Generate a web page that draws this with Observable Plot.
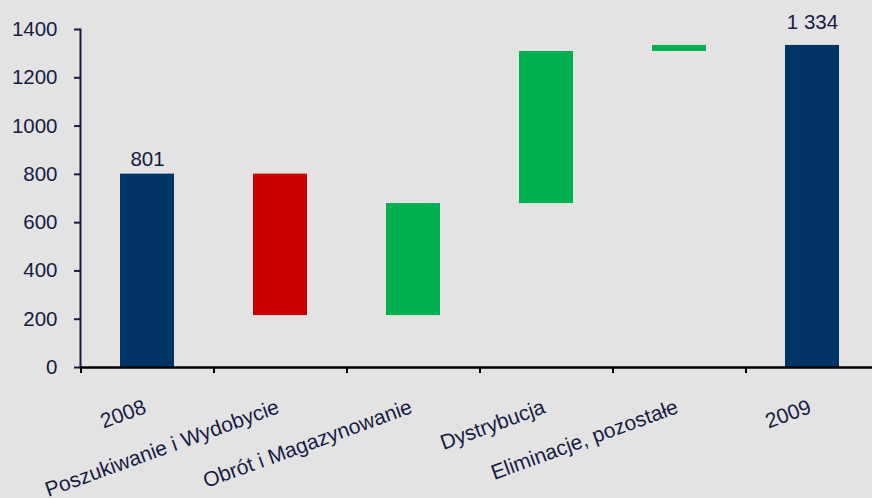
<!DOCTYPE html>
<html lang="pl">
<head>
<meta charset="utf-8">
<title>EBIT 2008–2009</title>
<script src="https://cdn.jsdelivr.net/npm/d3@7"></script>
<script src="https://cdn.jsdelivr.net/npm/@observablehq/plot@0.6"></script>
<style>
  html, body { margin: 0; padding: 0; background: #e3e3e3; }
  #chart svg { display: block; }
</style>
</head>
<body>
<div id="chart"></div>
<script>
// Waterfall: 2008 total, changes by segment, 2009 total
const categories = [
  "2008",
  "Poszukiwanie i Wydobycie",
  "Obrót i Magazynowanie",
  "Dystrybucja",
  "Eliminacje, pozostałe",
  "2009"
];
const values = [801, -586, 464, 630, 25, 1334];
const kinds = ["total", "change", "change", "change", "change", "total"];
const yTicks = [0, 200, 400, 600, 800, 1000, 1200, 1400];

// Build floating bar extents from running total
let running = 0;
const rows = categories.map((cat, i) => {
  const v = values[i];
  let lo, hi, type;
  if (kinds[i] === "total") {
    lo = 0; hi = v; running = v; type = "total";
  } else {
    const start = running;
    running += v;
    lo = Math.min(start, running);
    hi = Math.max(start, running);
    type = v < 0 ? "decrease" : "increase";
  }
  return {cat, value: v, lo, hi, type};
});

const pl = d3.formatLocale({decimal: ",", thousands: "\u00a0", grouping: [3], currency: ["", " zł"]});
const fmt = pl.format(",d");

const ink = "#161c45";
const totals = rows.filter(d => d.type === "total");

const chart = Plot.plot({
  width: 872,
  height: 498,
  marginLeft: 80,
  marginRight: 0,
  marginTop: 29,
  marginBottom: 131,
  style: {background: "#e3e3e3", fontFamily: "'Liberation Sans', Arial, sans-serif", color: ink},
  x: {domain: categories, range: [80, 878], paddingInner: 0.594, paddingOuter: 0.297, axis: null},
  y: {domain: [0, 1400], axis: null},
  color: {domain: ["total", "decrease", "increase"], range: ["#003366", "#cc0000", "#00b050"]},
  marks: [
    Plot.barY(rows, {x: "cat", y1: "lo", y2: "hi", fill: "type"}),
    // y axis
    Plot.axisY({ticks: yTicks, tickSize: 6, tickPadding: 17, fontSize: 20.5, strokeWidth: 2, stroke: ink, fill: ink, tickFormat: d => String(d)}),
    Plot.frame({anchor: "left", stroke: ink, strokeWidth: 2}),
    // x axis line and ticks between categories
    Plot.ruleY([0], {stroke: "#000", strokeWidth: 2.5}),
    Plot.ruleX(categories, {x: d => d, dx: -66.5, y1: 0, y2: 0, insetBottom: -6, stroke: "#000", strokeWidth: 2}),
    // category labels
    Plot.text(categories, {x: d => d, frameAnchor: "bottom", dy: 45, rotate: -20, textAnchor: "end", lineAnchor: "bottom", fontSize: 21, fill: ink}),
    // total value labels
    Plot.text(totals.slice(0, 1), {x: "cat", y: "hi", text: d => fmt(d.value), dy: -8, lineAnchor: "bottom", fontSize: 20.5, fill: ink}),
    Plot.text(totals.slice(1), {x: "cat", y: "hi", text: d => fmt(d.value), dy: -16, lineAnchor: "bottom", fontSize: 20.5, fill: ink})
  ]
});

document.getElementById("chart").append(chart);
</script>
</body>
</html>
